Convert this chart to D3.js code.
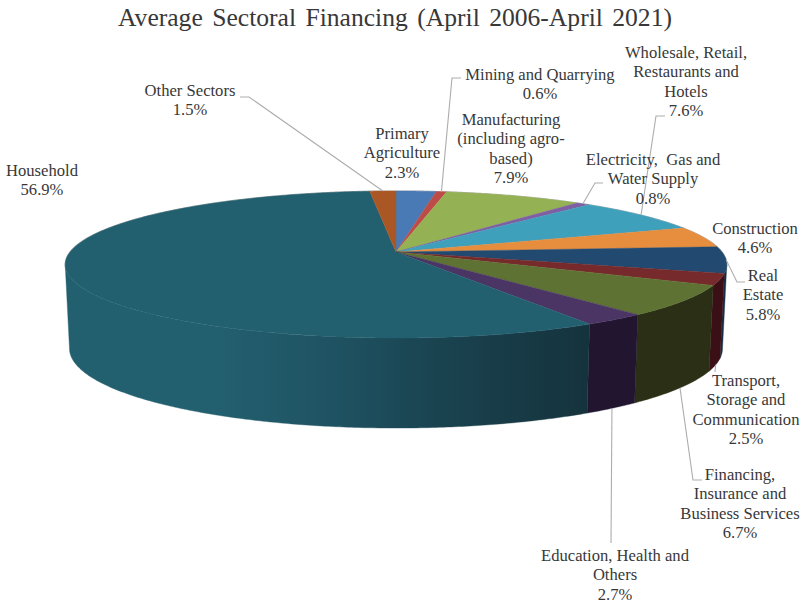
<!DOCTYPE html>
<html>
<head>
<meta charset="utf-8">
<script src="https://cdnjs.cloudflare.com/ajax/libs/d3/7.8.5/d3.min.js"></script>
<style>
  html, body { margin: 0; padding: 0; background: #fff; }
  svg { display: block; }
  text { font-family: "Liberation Serif", "Times New Roman", serif; fill: #383838; }
</style>
</head>
<body>
<svg id="chart" width="804" height="606"></svg>
<script>
// Sector shares, clockwise from twelve o'clock
const sectors = [
  "Primary Agriculture", "Mining and Quarrying", "Manufacturing", "Electricity, Gas and Water Supply",
  "Wholesale, Retail, Restaurants and Hotels", "Construction", "Real Estate",
  "Transport, Storage and Communication", "Financing, Insurance and Business Services",
  "Education, Health and Others", "Household", "Other Sectors"
];
const shares = [2.3, 0.6, 7.9, 0.8, 7.6, 4.6, 5.8, 2.5, 6.7, 2.7, 56.9, 1.5];

const topColors = ["#4a7ab5", "#bd4b48", "#94b153", "#7d5fa2", "#3fa0bc", "#e68d3e",
                   "#22496f", "#772a2b", "#5d7233", "#4a3564", "#23606f", "#aa5725"];
const wallColors = ["#2e4b70", "#74302d", "#5b6d33", "#4d3a64", "#276274", "#8e5726",
                    "#152d44", "#3a1016", "#2a2f15", "#221530", "url(#householdWall)", "#693616"];

// Label text split into lines, with the centre x and the baseline of the first line
const labelLines = [
  ["Primary", "Agriculture", "2.3%"],
  ["Mining and Quarrying", "0.6%"],
  ["Manufacturing", "(including agro-", "based)", "7.9%"],
  ["Electricity,  Gas and", "Water Supply", "0.8%"],
  ["Wholesale, Retail,", "Restaurants and", "Hotels", "7.6%"],
  ["Construction", "4.6%"],
  ["Real", "Estate", "5.8%"],
  ["Transport,", "Storage and", "Communication", "2.5%"],
  ["Financing,", "Insurance and", "Business Services", "6.7%"],
  ["Education, Health and", "Others", "2.7%"],
  ["Household", "56.9%"],
  ["Other Sectors", "1.5%"]
];
const labelCentreX = [402, 540, 511, 653, 686, 755, 763, 746, 740, 615, 42, 190];
const labelTopY = [139, 80, 125, 165, 58, 234, 281, 386, 480, 561, 176, 96];

// Elbows of the leader lines: the x,y of the bend and of the end next to the text
const leaderElbows = {
  1: [[452, 78], [461, 78]],
  3: [[595, 183], [603, 183]],
  4: [[656, 116], [665, 116]],
  6: [[737, 282], [745, 282]],
  7: [[715, 372]],
  8: [[693, 480], [702, 480]],
  9: [[611, 543]],
  11: [[249, 97], [240, 97]]
};
const lowerRimLeaders = new Set([7, 8, 9]);

// Perspective projection of the disc
const apex = { x: 396, y: 252 };
const radiusX = 326, radiusY = 71.4, skew = 0.17;
const depth = 82.9, depthSkew = 0.079, lowerScale = 0.987;

// Only the part of the rim between the two silhouette points shows a wall
const wallStart = Math.acos(-skew);
const wallEnd = 2 * Math.PI - wallStart;

function rimTop(theta) {
  const u = Math.sin(theta), v = Math.cos(theta), w = 1 + skew * v;
  return [apex.x + radiusX * u / w, apex.y - radiusY * v / w];
}
function rimBottom(theta) {
  const [x, y] = rimTop(theta);
  return [apex.x + (x - apex.x) * lowerScale, y + depth / (1 + depthSkew * Math.cos(theta))];
}
function arcSamples(a0, a1, fn) {
  const n = Math.max(2, Math.ceil((a1 - a0) / 0.01));
  return d3.range(n + 1).map(i => fn(a0 + (a1 - a0) * i / n));
}
function wallPath(d) {
  const a0 = Math.max(d.startAngle, wallStart), a1 = Math.min(d.endAngle, wallEnd);
  if (a1 <= a0) return null;
  return line(arcSamples(a0, a1, rimTop).concat(arcSamples(a0, a1, rimBottom).reverse())) + "Z";
}

const svg = d3.select("#chart");
const line = d3.line();

// Household wall darkens from left to right
const gradientStops = [
  [69, "#23606f"], [210, "#23606f"], [330, "#1f5363"], [430, "#1a4451"], [588, "#15333d"]
];
const xFrac = d3.scaleLinear().domain([69, 588]).range([0, 100]);
const grad = svg.append("defs").append("linearGradient")
  .attr("id", "householdWall").attr("gradientUnits", "userSpaceOnUse")
  .attr("x1", 69).attr("x2", 588).attr("y1", 0).attr("y2", 0);
gradientStops.forEach(([x, c]) => grad.append("stop").attr("offset", xFrac(x) + "%").attr("stop-color", c));

const slices = d3.pie().sort(null).value(d => d)(shares);

svg.append("g").selectAll("path").data(slices).join("path")
  .attr("d", wallPath)
  .attr("fill", (d, i) => wallColors[i])
  .attr("stroke", (d, i) => wallColors[i])
  .attr("stroke-width", 0.4);

// Faint outline along the far edge of the disc
svg.append("path")
  .attr("d", line(arcSamples(wallEnd - 2 * Math.PI, wallStart, rimTop)))
  .attr("fill", "none")
  .attr("stroke", "#b8b8b8")
  .attr("stroke-width", 1.2);

svg.append("g").selectAll("path").data(slices).join("path")
  .attr("d", d => line([[apex.x, apex.y]].concat(arcSamples(d.startAngle, d.endAngle, rimTop))) + "Z")
  .attr("fill", (d, i) => topColors[i])
  .attr("stroke", (d, i) => topColors[i])
  .attr("stroke-width", 0.4);

// Leader lines run from the middle of a slice's rim to its label
svg.append("g").selectAll("path").data(Object.keys(leaderElbows).map(Number)).join("path")
  .attr("d", i => {
    const mid = (slices[i].startAngle + slices[i].endAngle) / 2;
    const start = lowerRimLeaders.has(i) ? rimBottom(mid) : rimTop(mid);
    return line([start].concat(leaderElbows[i]));
  })
  .attr("fill", "none")
  .attr("stroke", "#adadad")
  .attr("stroke-width", 1.1);

svg.append("text")
  .attr("x", 395).attr("y", 25.5)
  .attr("text-anchor", "middle")
  .attr("font-size", 25.6)
  .attr("word-spacing", 3)
  .text("Average Sectoral Financing (April 2006-April 2021)");

const labels = svg.append("g").selectAll("text").data(labelLines).join("text")
  .attr("text-anchor", "middle")
  .attr("font-size", 16.6)
  .attr("xml:space", "preserve")
  .attr("transform", (d, i) => `translate(${labelCentreX[i]},${labelTopY[i]})`);
labels.selectAll("tspan").data(d => d).join("tspan")
  .attr("x", 0)
  .attr("y", (d, j) => j * 19.3)
  .text(d => d);
</script>
</body>
</html>
